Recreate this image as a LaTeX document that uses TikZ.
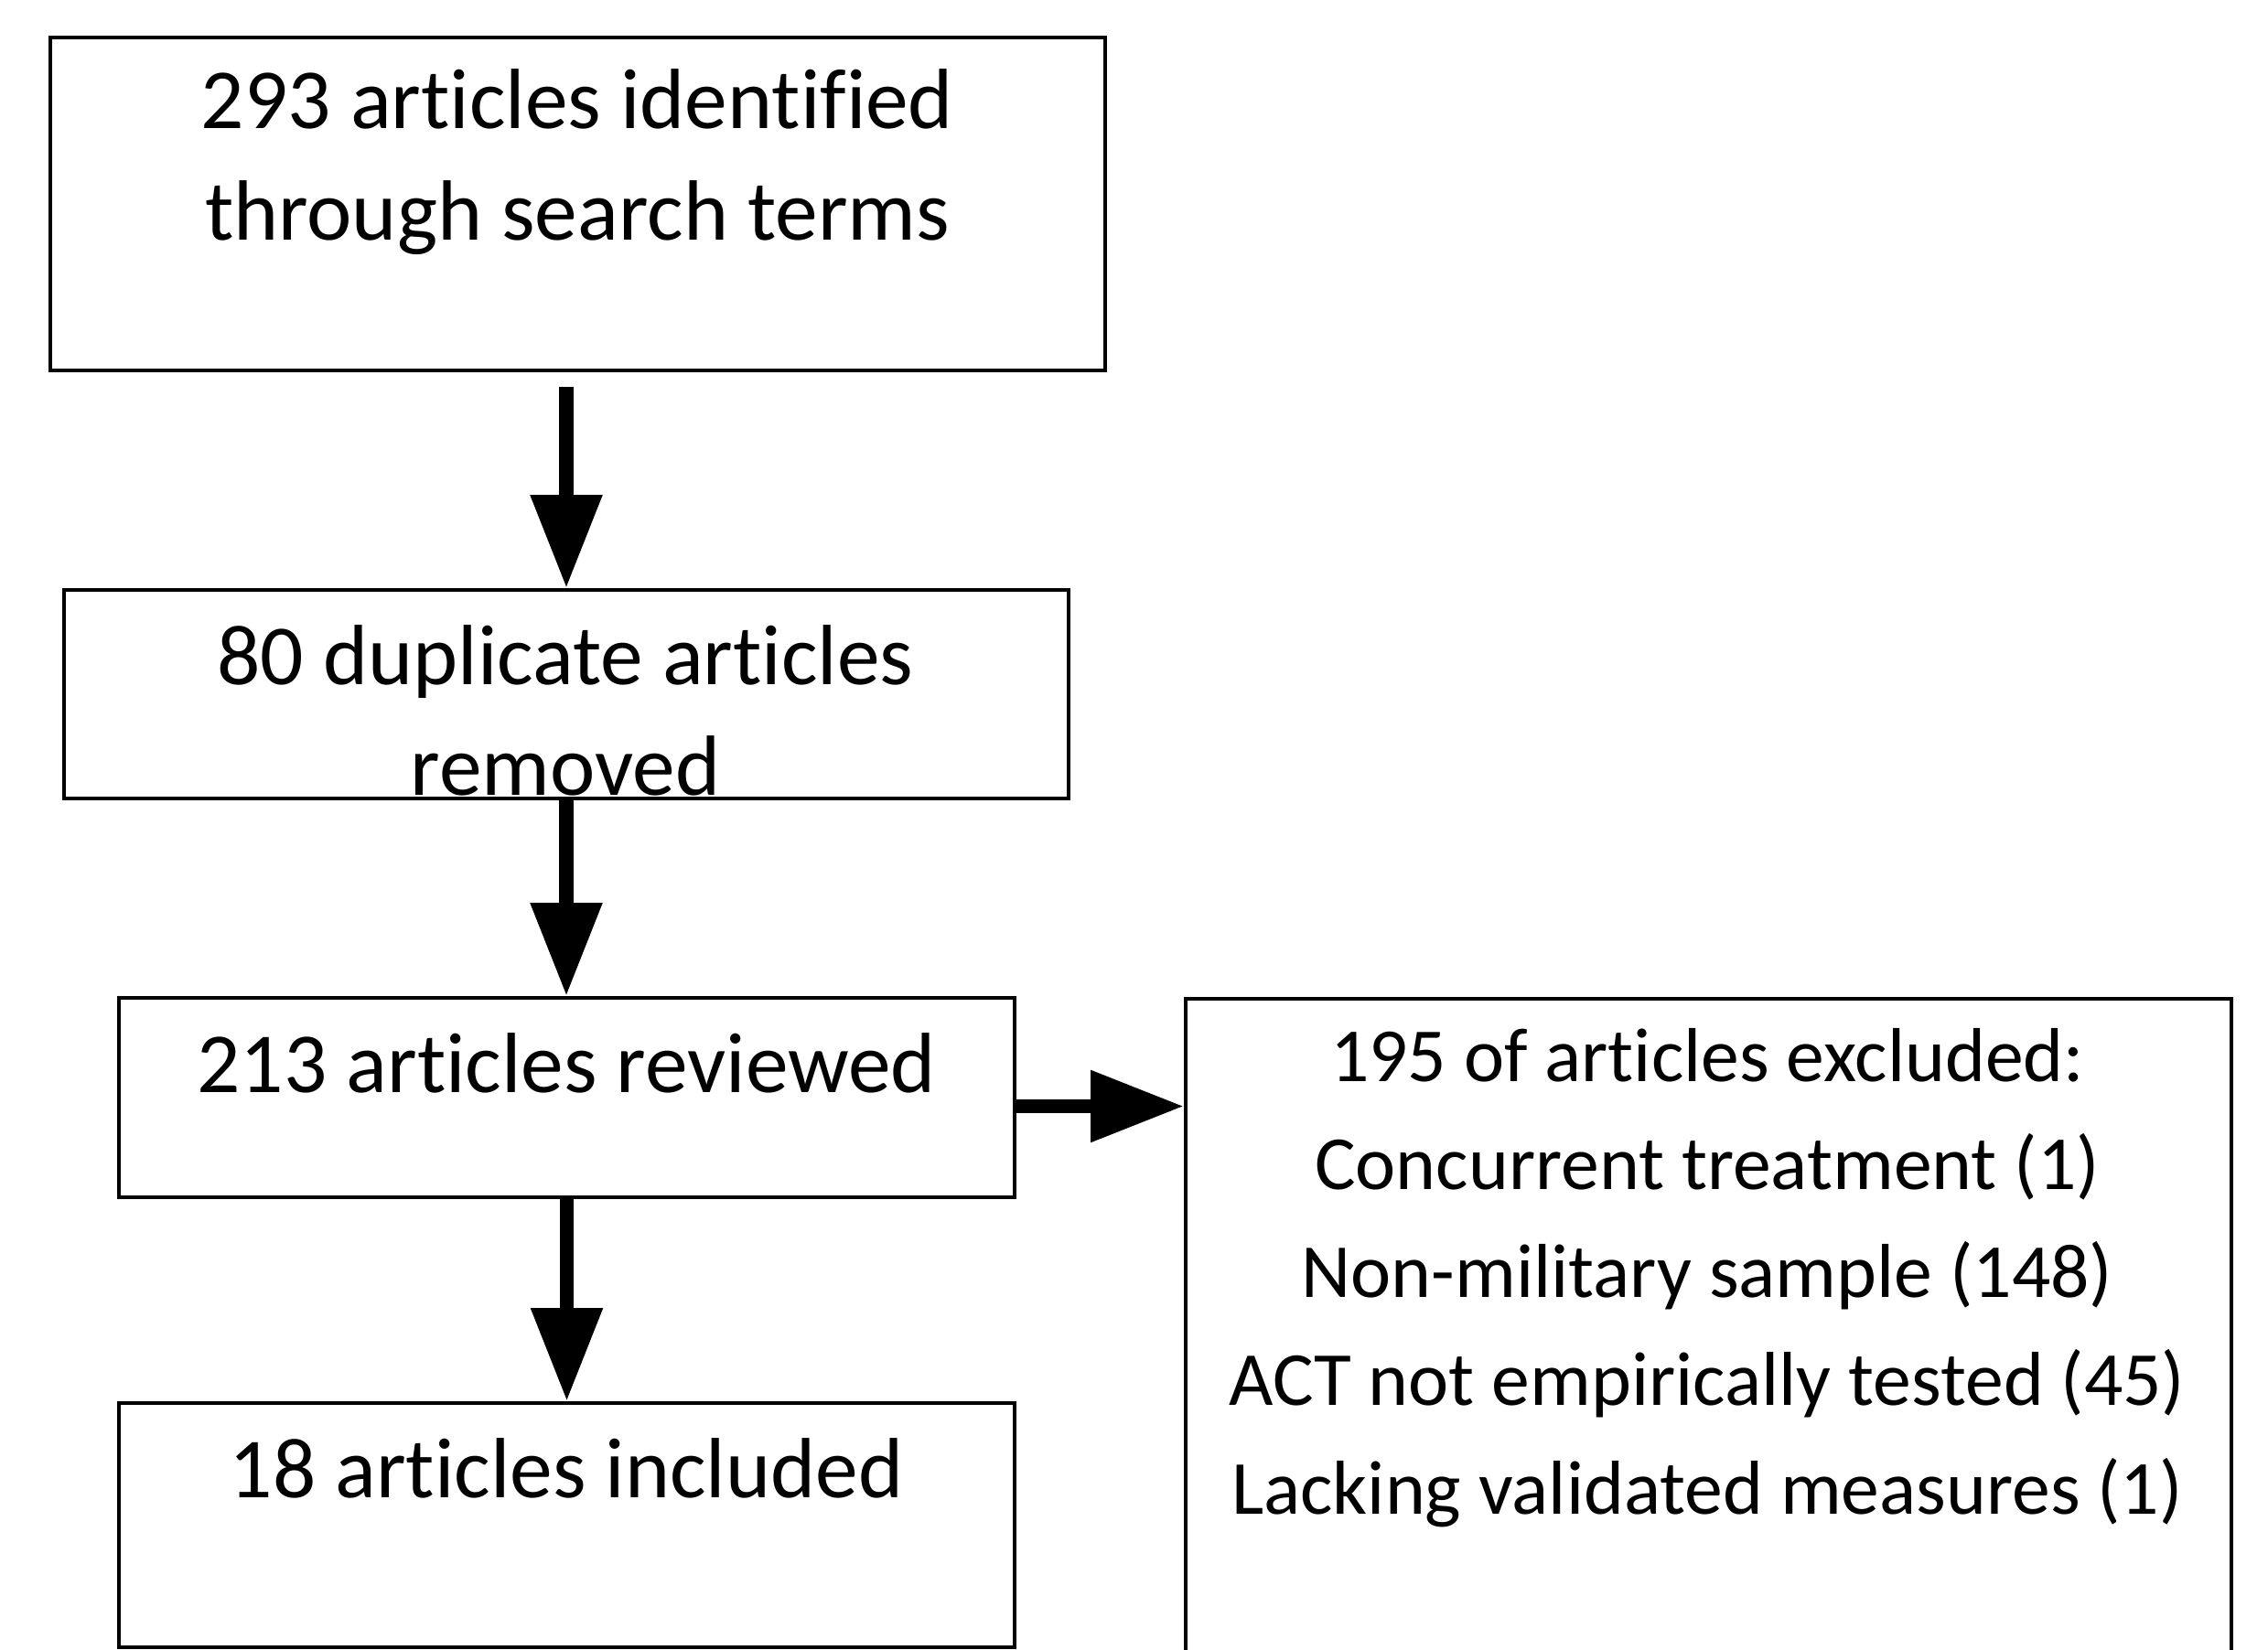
\documentclass[tikz,border=0pt]{standalone}
\usepackage{fontspec}
\setmainfont{Carlito}[Ligatures=NoCommon]
\usetikzlibrary{arrows.meta}

\begin{document}
\begin{tikzpicture}[line cap=butt,
  box/.style={draw,line width=1.15pt,rectangle,inner sep=0pt},
  txt/.style={align=center,inner sep=0pt,font=\fontsize{26.6}{34.6}\selectfont},
  smalltxt/.style={align=center,inner sep=0pt,font=\fontsize{23.8}{33.6}\selectfont},
  flow/.style={line width=4.5pt,-{Triangle[length=29pt,width=21.3pt]}}]
\useasboundingbox (0,0) rectangle (24.79,18.03);
% boxes
\node[box,minimum width=11.527cm,minimum height=3.64cm] (found) at (6.317,15.797) {};
\node[box,minimum width=10.98cm,minimum height=2.28cm] (dup) at (6.19,10.44) {};
\node[box,minimum width=9.79cm,minimum height=2.18cm] (rev) at (6.195,6.03) {};
\node[box,minimum width=11.43cm,minimum height=8.11cm] (excl) at (18.675,3.055) {};
\node[box,minimum width=9.79cm,minimum height=2.67cm] (inc) at (6.195,1.355) {};
% texts
\node[txt] (foundtxt) at (6.31,16.26) {293 articles identified\\through search terms};
\node[txt] (duptxt) at (6.18,10.26) {80 duplicate articles\\removed};
\node[txt] (revtxt) at (6.19,6.41) {213 articles reviewed};
\node[smalltxt] (excltxt) at (18.66,4.06) {195 of articles excluded:\\Concurrent treatment (1)\\Non-military sample (148)\\ACT not empirically tested (45)\\Lacking validated measures (1)};
\node[txt] (inctxt) at (6.19,1.98) {18 articles included};
% arrows
\draw[flow] ([yshift=-0.16cm]dup.north |- found.south) -- (dup.north);
\draw[flow] (dup.south) -- (dup.south |- rev.north);
\draw[flow] (rev.south) -- (inc.north);
\draw[flow] ([yshift=-0.095cm]rev.east) -- ([yshift=-0.095cm]rev.east -| excl.west);
\end{tikzpicture}
\end{document}
